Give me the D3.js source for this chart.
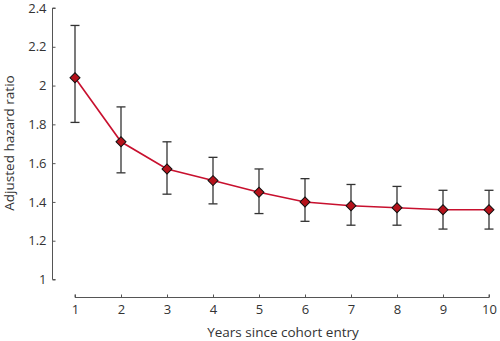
<!DOCTYPE html>
<html><head><meta charset="utf-8">
<script src="https://cdn.jsdelivr.net/npm/d3@7"></script>
<style>body{margin:0;background:#fff}text{font-family:"Open Sans",sans-serif;fill:#333}</style>
</head><body><svg id="c" width="500" height="341"></svg>
<script>
const years = [1,2,3,4,5,6,7,8,9,10];
const hr    = [2.04,1.71,1.57,1.51,1.45,1.40,1.38,1.37,1.36,1.36];
const lower = [1.81,1.55,1.44,1.39,1.34,1.30,1.28,1.28,1.26,1.26];
const upper = [2.31,1.89,1.71,1.63,1.57,1.52,1.49,1.48,1.46,1.46];
const yTicks = [1,1.2,1.4,1.6,1.8,2,2.2,2.4];

const svg = d3.select("#c");
const x = d3.scaleLinear().domain([1,10]).range([75,489]);
const y = d3.scaleLinear().domain([1,2.4]).range([279.5,8]);

const yAxis = svg.append("g").attr("transform","translate(52.5,0)")
  .call(d3.axisRight(y).tickValues(yTicks).tickSize(3).tickFormat(d=>d3.format("~g")(d)));
yAxis.selectAll("text").attr("x",-6).attr("text-anchor","end").style("font-size","13px");
yAxis.select(".domain").attr("d",`M3,${y(2.4)}H0V${y(1)}H3`);

const xAxis = svg.append("g").attr("transform","translate(0,297.5)")
  .call(d3.axisTop(x).tickValues(years).tickSize(3).tickFormat(d3.format("d")));
xAxis.selectAll("text").attr("y",16).attr("dy","0").style("font-size","13px");
xAxis.select(".domain").attr("d",`M${x(1)},-3V0H${x(10)}V-3`);
svg.selectAll(".domain,.tick line").attr("stroke","#555");

svg.append("text").attr("x",283).attr("y",337).attr("text-anchor","middle")
  .style("font-size","13.5px").text("Years since cohort entry");
svg.append("text").attr("transform","translate(14,143) rotate(-90)").attr("text-anchor","middle")
  .style("font-size","13.5px").text("Adjusted hazard ratio");

const g = svg.append("g");
years.forEach((yr,i)=>{
  const cx = x(yr);
  g.append("line").attr("x1",cx).attr("x2",cx).attr("y1",y(lower[i])).attr("y2",y(upper[i])).attr("stroke","#333").attr("stroke-width",1.3);
  [lower[i],upper[i]].forEach(v=>g.append("line").attr("x1",cx-4.5).attr("x2",cx+4.5).attr("y1",y(v)).attr("y2",y(v)).attr("stroke","#333").attr("stroke-width",1.3));
});
g.append("path").datum(years.map((yr,i)=>[yr,hr[i]]))
  .attr("d",d3.line().x(d=>x(d[0])).y(d=>y(d[1])))
  .attr("fill","none").attr("stroke","#c8102e").attr("stroke-width",1.6);
g.selectAll("path.m").data(years).enter().append("path").attr("class","m")
  .attr("d",d3.symbol(d3.symbolSquare,50))
  .attr("transform",(d,i)=>`translate(${x(d)},${y(hr[i])}) rotate(45)`)
  .attr("fill","#b5121b").attr("stroke","#111").attr("stroke-width",1);
</script></body></html>
